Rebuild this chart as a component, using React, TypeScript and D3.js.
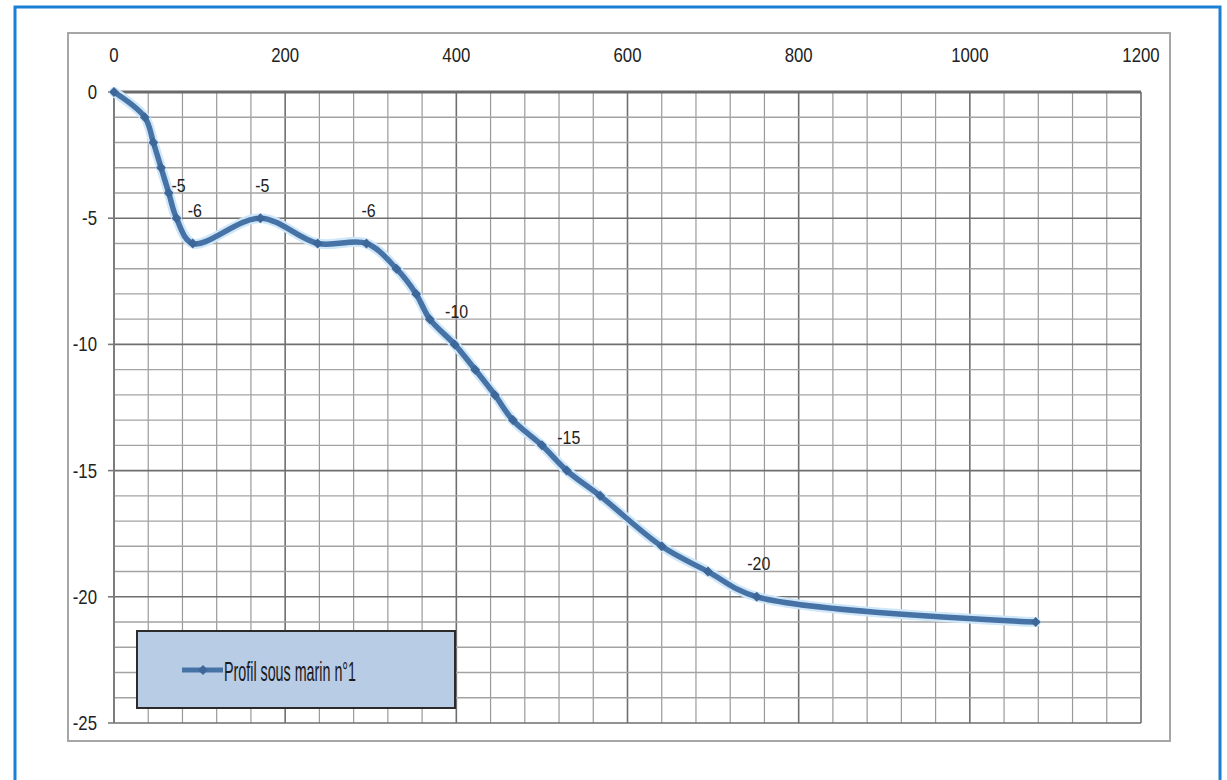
import React from "react";
import * as d3 from "d3";

const distances = [0, 36, 46, 55, 64, 73, 92, 171, 238, 295, 330, 353, 369, 398, 422, 445, 466, 500, 529, 568, 640, 694, 751, 1077];
const depths = [0, -1, -2, -3, -4, -5, -6, -5, -6, -6, -7, -8, -9, -10, -11, -12, -13, -14, -15, -16, -18, -19, -20, -21];
const pointLabels = ["", "", "", "", "", "-5", "-6", "-5", "", "-6", "", "", "", "-10", "", "", "", "", "-15", "", "", "", "-20", ""];
const xTicks = [0, 200, 400, 600, 800, 1000, 1200];
const yTicks = [0, -5, -10, -15, -20, -25];
const seriesName = "Profil sous marin n°1";

const W = 1227;
const H = 780;
const FONT = "'Liberation Sans', Arial, sans-serif";

function NarrowText({ x, y, anchor, size, children }: { x: number; y: number; anchor: string; size: number; children: any }) {
  return (
    <g transform={`translate(${x},${y}) scale(0.84,1)`}>
      <text x={0} y={0} textAnchor={anchor} dominantBaseline="central" fontFamily={FONT} fontSize={size} fill="#222">
        {children}
      </text>
    </g>
  );
}

export default function App() {
  const x = d3.scaleLinear().domain([0, 1200]).range([114, 1141]);
  const y = d3.scaleLinear().domain([0, -25]).range([92, 723]);

  const minorX = d3.range(0, 1201, 40);
  const minorY = d3.range(0, -26, -1);

  const pts: [number, number][] = distances.map((d, i) => [x(d), y(depths[i])]);
  const line = d3.line().curve(d3.curveCatmullRom.alpha(0.5))(pts) || "";

  const diamond = (cx: number, cy: number, r: number) =>
    `M${cx},${cy - r}L${cx + r},${cy}L${cx},${cy + r}L${cx - r},${cy}Z`;

  const lineColor = "#4672a6";

  return (
    <svg width={W} height={H} style={{ position: "absolute", left: 0, top: 0, background: "#fff" }}>
      <rect x={0} y={0} width={W} height={H} fill="#fff" />
      {/* outer blue border */}
      <rect x={15} y={7} width={1205} height={800} fill="none" stroke="#1b7fd3" strokeWidth={3} />
      {/* chart frame */}
      <rect x={68} y={33} width={1102} height={708} fill="none" stroke="#a6a6a6" strokeWidth={2} />

      {/* grid */}
      {minorX.map((v) => (
        <line key={"vx" + v} x1={x(v)} x2={x(v)} y1={y(0)} y2={y(-25)}
          stroke={v % 200 === 0 ? "#6f6f6f" : "#9a9a9a"} strokeWidth={v % 200 === 0 ? 1.6 : 1.2} />
      ))}
      {minorY.map((v) => (
        <line key={"hy" + v} x1={x(0)} x2={x(1200)} y1={y(v)} y2={y(v)}
          stroke={v % 5 === 0 ? "#6f6f6f" : "#a3a3a3"} strokeWidth={v % 5 === 0 ? 1.6 : 1.4} />
      ))}

      {/* axes */}
      <line x1={x(0)} x2={x(1200)} y1={y(0)} y2={y(0)} stroke="#6a6a6a" strokeWidth={3} />
      <line x1={x(0)} x2={x(0)} y1={y(0)} y2={y(-25)} stroke="#7a7a7a" strokeWidth={1.6} />
      {yTicks.map((v) => (
        <line key={"yt" + v} x1={x(0) - 6} x2={x(0)} y1={y(v)} y2={y(v)} stroke="#7a7a7a" strokeWidth={1.6} />
      ))}

      {/* tick labels */}
      {xTicks.map((v) => (
        <NarrowText key={"xl" + v} x={x(v)} y={55} anchor="middle" size={20}>{v}</NarrowText>
      ))}
      {yTicks.map((v) => (
        <NarrowText key={"yl" + v} x={97} y={y(v)} anchor="end" size={20}>{v}</NarrowText>
      ))}

      {/* series halo + line */}
      <path d={line} fill="none" stroke="#cfe7f8" strokeWidth={10} strokeLinejoin="round" strokeLinecap="round" />
      <path d={line} fill="none" stroke={lineColor} strokeWidth={5.5} strokeLinejoin="round" strokeLinecap="round" />
      {pts.map(([px, py], i) => (
        <path key={"m" + i} d={diamond(px, py, 5)} fill="#3d6699" />
      ))}

      {/* data labels */}
      {pts.map(([px, py], i) =>
        pointLabels[i] ? (
          <NarrowText key={"dl" + i} x={px + 2} y={py - 33} anchor="middle" size={19}>{pointLabels[i]}</NarrowText>
        ) : null
      )}

      {/* legend */}
      <rect x={137} y={631} width={318} height={77} fill="#b9cce6" stroke="#2b2b2b" strokeWidth={2} />
      <line x1={182} x2={223} y1={670} y2={670} stroke={lineColor} strokeWidth={5} />
      <path d={diamond(203, 670, 5)} fill="#3d6699" />
      <text x={224} y={671} dominantBaseline="central" fontFamily={FONT} fontSize={28}
        textLength={132} lengthAdjust="spacingAndGlyphs" fill="#1a1a1a">{seriesName}</text>
    </svg>
  );
}
